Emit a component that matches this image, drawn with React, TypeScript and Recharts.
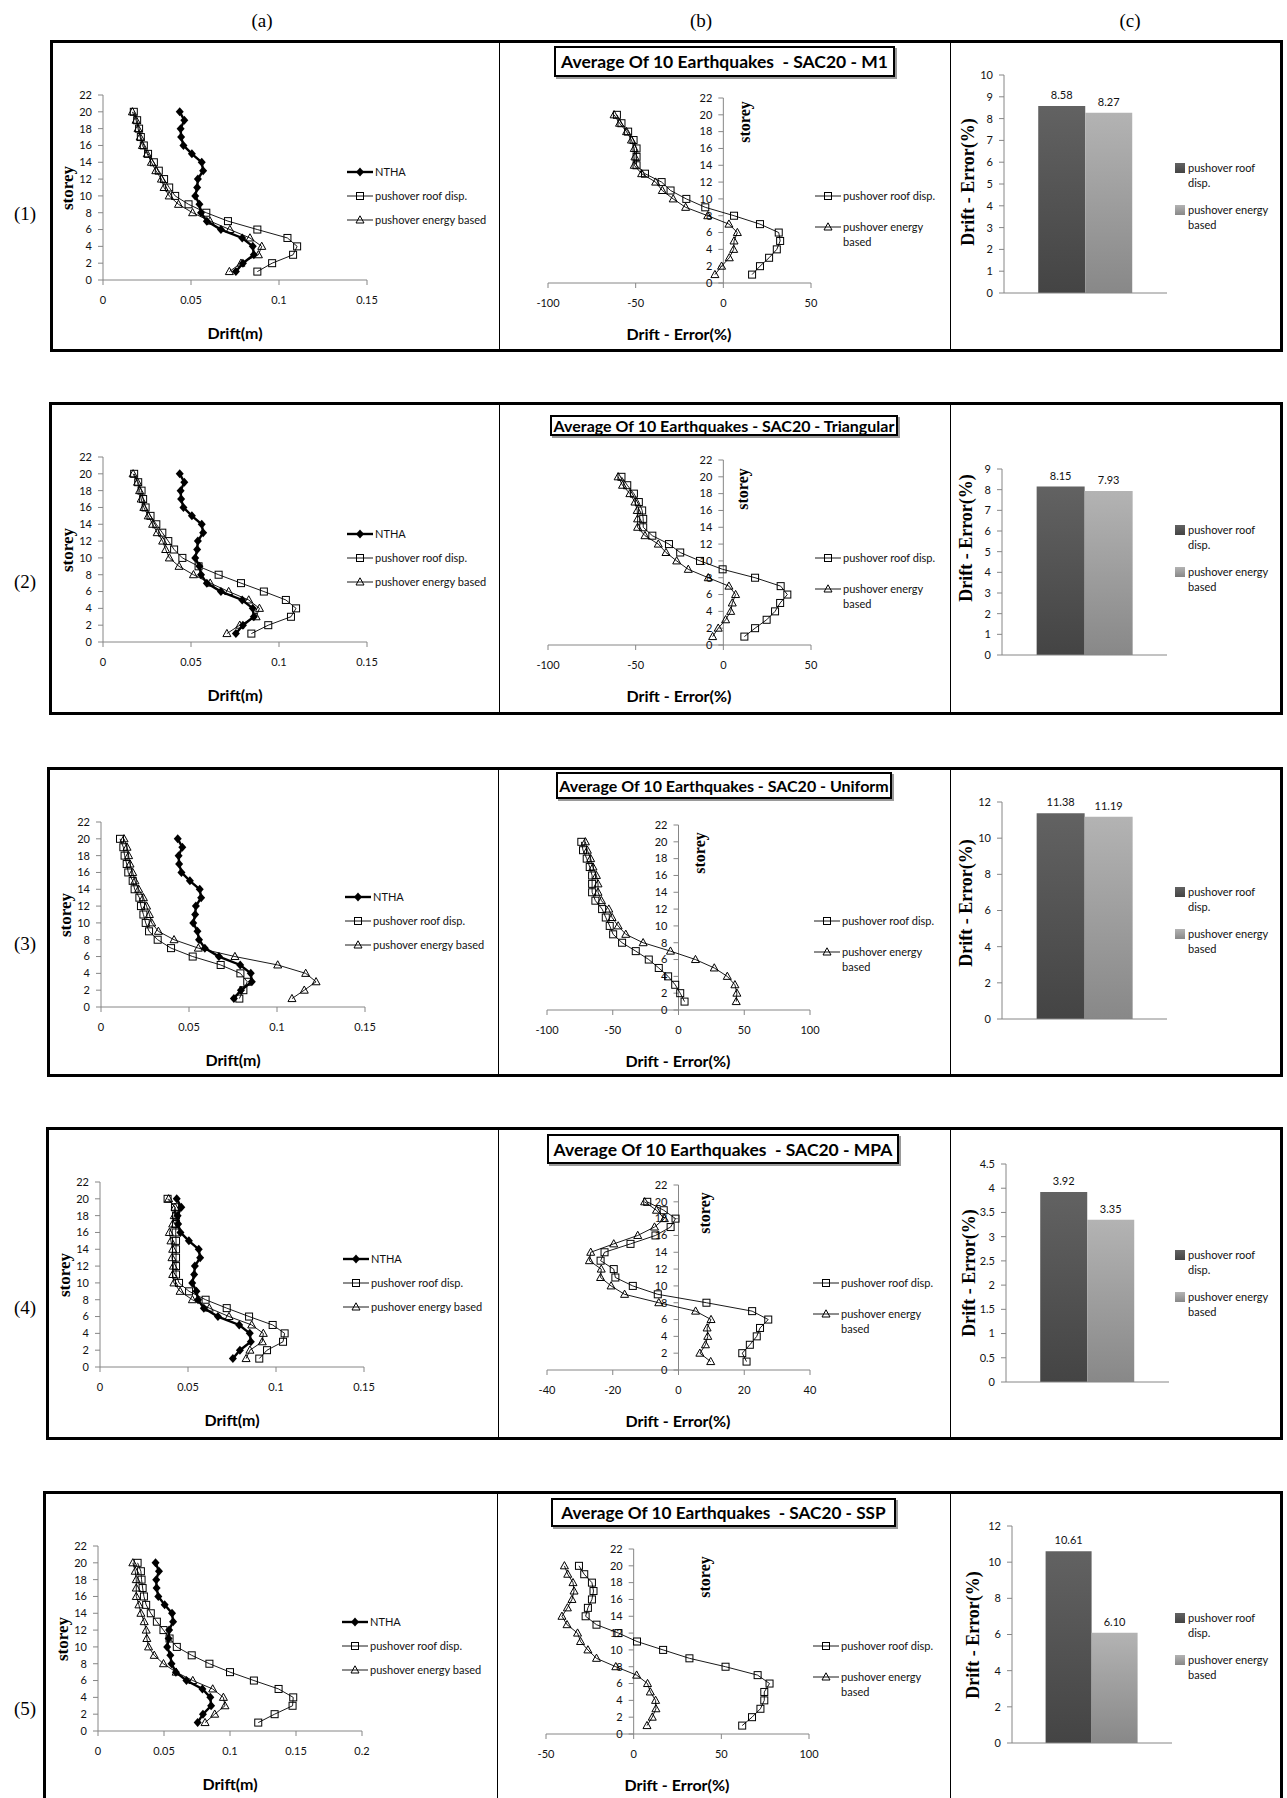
import React from 'react';
import { ScatterChart, Scatter, XAxis, YAxis, ReferenceLine, ReferenceDot, BarChart, Bar, LabelList } from 'recharts';

const SANS = 'Lato, "Open Sans", sans-serif';
const SERIF = '"Liberation Serif", "DejaVu Serif", serif';
const AXIS = '#868686';
const INK = '#111';

// storeys 1..20 (bottom to top)
const storeys = [1, 2, 3, 4, 5, 6, 7, 8, 9, 10, 11, 12, 13, 14, 15, 16, 17, 18, 19, 20];
const storeyTicks = [0, 2, 4, 6, 8, 10, 12, 14, 16, 18, 20, 22];

const seriesNames = ['NTHA', 'pushover roof disp.', 'pushover energy based'];
const columnLabels = ['(a)', '(b)', '(c)'];
const rowLabels = ['(1)', '(2)', '(3)', '(4)', '(5)'];
const titles = [
  'Average Of 10 Earthquakes  - SAC20 - M1',
  'Average Of 10 Earthquakes - SAC20 - Triangular',
  'Average Of 10 Earthquakes - SAC20 - Uniform',
  'Average Of 10 Earthquakes  - SAC20 - MPA',
  'Average Of 10 Earthquakes  - SAC20 - SSP',
];

// NTHA drift (m), same reference in every row
const nthaDrift = [0.0755, 0.0795, 0.0857, 0.0851, 0.0791, 0.067, 0.059, 0.0557, 0.0548, 0.0524, 0.0535, 0.0539, 0.0569, 0.0561, 0.0505, 0.0457, 0.0444, 0.0441, 0.0462, 0.0436];

// M1
const m1RoofDrift = [0.0877, 0.0961, 0.108, 0.1103, 0.1048, 0.0877, 0.071, 0.0587, 0.0486, 0.041, 0.0376, 0.0347, 0.0317, 0.0289, 0.0256, 0.0232, 0.0215, 0.0205, 0.0194, 0.0175];
const m1EnergyDrift = [0.0718, 0.0784, 0.0883, 0.0902, 0.0835, 0.0721, 0.0608, 0.0509, 0.0429, 0.0376, 0.0347, 0.0332, 0.03, 0.0275, 0.0251, 0.0224, 0.0211, 0.0199, 0.0188, 0.0167];
const m1RoofError = [16.4, 20.9, 26.1, 30.5, 32.4, 31.6, 20.9, 6.1, -10.3, -21.1, -30.1, -35.2, -44.7, -49.5, -49.5, -49.5, -51.2, -54.3, -58.1, -60.7];
const m1EnergyError = [-4.8, -1.0, 3.4, 5.9, 6.1, 8.0, 3.2, -8.9, -21.5, -28.6, -34.8, -38.6, -46.6, -50.8, -50.4, -50.8, -52.4, -55.2, -59.2, -62.3];
const m1MeanError = [8.58, 8.27];

// Triangular
const triRoofDrift = [0.0843, 0.0939, 0.1068, 0.1097, 0.1039, 0.0914, 0.0784, 0.0657, 0.0543, 0.0451, 0.0404, 0.0371, 0.0337, 0.0303, 0.027, 0.0242, 0.0228, 0.0219, 0.02, 0.0177];
const triEnergyDrift = [0.0704, 0.0777, 0.087, 0.0889, 0.0828, 0.0714, 0.0609, 0.0514, 0.0432, 0.0377, 0.0356, 0.0339, 0.0308, 0.0282, 0.0257, 0.0232, 0.0217, 0.0208, 0.0196, 0.0171];
const triRoofError = [12.0, 18.1, 24.7, 29.5, 32.4, 36.5, 32.7, 18.1, -0.4, -13.3, -24.6, -31.0, -40.5, -45.7, -45.7, -46.3, -48.2, -51.0, -54.8, -58.1];
const triEnergyError = [-6.1, -2.9, 1.3, 4.2, 5.1, 7.0, 3.2, -8.6, -20.0, -26.6, -32.7, -37.1, -44.7, -48.9, -48.9, -49.1, -50.4, -53.3, -57.5, -60.0];
const triMeanError = [8.15, 7.93];

// Uniform
const uniRoofDrift = [0.0786, 0.0809, 0.0831, 0.0792, 0.068, 0.0521, 0.0398, 0.0322, 0.0273, 0.0254, 0.0241, 0.0227, 0.0218, 0.0191, 0.018, 0.0155, 0.0146, 0.0134, 0.0127, 0.0108];
const uniEnergyDrift = [0.1085, 0.1155, 0.1222, 0.1163, 0.1004, 0.0761, 0.0553, 0.0415, 0.0326, 0.0288, 0.0275, 0.0259, 0.0241, 0.0214, 0.0193, 0.018, 0.0165, 0.0157, 0.0148, 0.0131];
const uniRoofError = [4.6, 1.3, -2.5, -7.9, -15.0, -22.6, -32.5, -42.9, -49.7, -52.3, -55.3, -58.1, -63.2, -65.7, -65.7, -65.7, -67.5, -69.8, -72.6, -73.9];
const uniEnergyError = [43.9, 44.4, 42.9, 37.1, 27.2, 12.9, -6.1, -26.9, -40.1, -45.9, -50.5, -53.0, -58.6, -61.2, -61.2, -62.4, -65.0, -66.8, -69.3, -70.8];
const uniMeanError = [11.38, 11.19];

// MPA
const mpaRoofDrift = [0.0905, 0.0949, 0.104, 0.1049, 0.0981, 0.0847, 0.072, 0.06, 0.0506, 0.0449, 0.0432, 0.0432, 0.0432, 0.0432, 0.0432, 0.043, 0.0432, 0.0432, 0.0426, 0.0384];
const mpaEnergyDrift = [0.083, 0.0852, 0.0922, 0.0928, 0.0862, 0.0733, 0.0621, 0.0525, 0.0455, 0.042, 0.0413, 0.0417, 0.0409, 0.0413, 0.0403, 0.0394, 0.0413, 0.0422, 0.0426, 0.039];
const mpaRoofError = [20.7, 19.4, 21.7, 23.8, 24.8, 27.3, 22.4, 8.5, -6.3, -13.9, -19.2, -19.7, -23.7, -22.5, -14.6, -7.0, -2.4, -0.9, -4.5, -9.5];
const mpaEnergyError = [9.8, 6.5, 8.2, 8.9, 8.7, 9.9, 5.2, -6.0, -16.4, -20.5, -23.7, -23.5, -27.1, -26.7, -19.7, -12.4, -7.3, -4.3, -6.7, -10.3];
const mpaMeanError = [3.92, 3.35];

// SSP
const sspRoofDrift = [0.1214, 0.1338, 0.1474, 0.1479, 0.1368, 0.1181, 0.1, 0.0844, 0.071, 0.0597, 0.0542, 0.0496, 0.0446, 0.04, 0.0365, 0.0348, 0.0338, 0.033, 0.0325, 0.03];
const sspEnergyDrift = [0.0811, 0.0884, 0.0962, 0.095, 0.0869, 0.0718, 0.0592, 0.0496, 0.0426, 0.0383, 0.037, 0.0365, 0.035, 0.0325, 0.031, 0.029, 0.029, 0.029, 0.0282, 0.0264];
const sspRoofError = [61.9, 67.5, 72.3, 74.5, 74.5, 77.5, 70.7, 52.4, 31.8, 16.8, 1.9, -8.7, -21.2, -27.4, -26.1, -23.8, -22.9, -23.8, -28.2, -31.2];
const sspEnergyError = [7.6, 10.6, 12.7, 12.5, 9.5, 7.9, 1.7, -10.2, -21.2, -26.1, -30.3, -32.0, -38.0, -40.9, -37.8, -35.2, -34.0, -34.6, -37.6, -39.5];
const sspMeanError = [10.61, 6.1];

// axis ticks
const driftTicks = [0, 0.05, 0.1, 0.15];
const driftTicksWide = [0, 0.05, 0.1, 0.15, 0.2];
const errTicksNarrow = [-100, -50, 0, 50];
const errTicksWide = [-100, -50, 0, 50, 100];
const errTicksMpa = [-40, -20, 0, 20, 40];
const errTicksSsp = [-50, 0, 50, 100];
const barTicksM1 = [0, 1, 2, 3, 4, 5, 6, 7, 8, 9, 10];
const barTicksTri = [0, 1, 2, 3, 4, 5, 6, 7, 8, 9];
const barTicksUni = [0, 2, 4, 6, 8, 10, 12];
const barTicksMpa = [0, 0.5, 1, 1.5, 2, 2.5, 3, 3.5, 4, 4.5];

const toPoints = (values: number[]) => values.map((v, i) => ({ x: v, y: storeys[i] }));

const rows = [
  { roof: m1RoofDrift, energy: m1EnergyDrift, roofErr: m1RoofError, energyErr: m1EnergyError, bars: m1MeanError, dTicks: driftTicks, eTicks: errTicksNarrow, bTicks: barTicksM1 },
  { roof: triRoofDrift, energy: triEnergyDrift, roofErr: triRoofError, energyErr: triEnergyError, bars: triMeanError, dTicks: driftTicks, eTicks: errTicksNarrow, bTicks: barTicksTri },
  { roof: uniRoofDrift, energy: uniEnergyDrift, roofErr: uniRoofError, energyErr: uniEnergyError, bars: uniMeanError, dTicks: driftTicks, eTicks: errTicksWide, bTicks: barTicksUni },
  { roof: mpaRoofDrift, energy: mpaEnergyDrift, roofErr: mpaRoofError, energyErr: mpaEnergyError, bars: mpaMeanError, dTicks: driftTicks, eTicks: errTicksMpa, bTicks: barTicksMpa },
  { roof: sspRoofDrift, energy: sspEnergyDrift, roofErr: sspRoofError, energyErr: sspEnergyError, bars: sspMeanError, dTicks: driftTicksWide, eTicks: errTicksSsp, bTicks: barTicksUni },
];

// page layout (pixels)
const layouts = [
  { top: 40, boxLeft: 50, boxH: 312, div1: 499, aX: 103, bX: 548, labelY: 174, storeyB: [745, 82], cLab: [968, 142], c: [1004, 35, 163, 218], title: [554, 46, 341, 31], titleSize: 17.5, aLeg: [347, 132], bLeg: [815, 156], cLeg: [1175, 128] },
  { top: 402, boxLeft: 49, boxH: 313, div1: 499, aX: 103, bX: 548, labelY: 180, storeyB: [743, 87], cLab: [966, 136], c: [1002, 67, 165, 186], title: [550, 415, 348, 21], titleSize: 16, aLeg: [347, 132], bLeg: [815, 156], cLeg: [1175, 128] },
  { top: 767, boxLeft: 47, boxH: 310, div1: 498, aX: 101, bX: 547, labelY: 177, storeyB: [700, 86], cLab: [966, 136], c: [1002, 35, 165, 217], title: [556, 772, 336, 27], titleSize: 16, aLeg: [345, 130], bLeg: [814, 154], cLeg: [1175, 125] },
  { top: 1127, boxLeft: 46, boxH: 313, div1: 498, aX: 100, bX: 547, labelY: 181, storeyB: [705, 86], cLab: [969, 146], c: [1006, 37, 163, 218], title: [547, 1134, 352, 30], titleSize: 17.5, aLeg: [343, 132], bLeg: [813, 156], cLeg: [1175, 128] },
  { top: 1491, boxLeft: 43, boxH: 330, div1: 497, aX: 98, bX: 546, labelY: 218, storeyB: [705, 86], cLab: [973, 144], c: [1012, 35, 160, 217], title: [551, 1498, 345, 29], titleSize: 17.2, aLeg: [342, 131], bLeg: [813, 155], cLeg: [1175, 127] },
];

const marker = (kind: string, cx: number, cy: number) => {
  if (kind === 'diamond')
    return <path d={`M${cx},${cy - 4.5}L${cx + 4},${cy}L${cx},${cy + 4.5}L${cx - 4},${cy}Z`} fill="#000" />;
  if (kind === 'square')
    return <rect x={cx - 3.5} y={cy - 3.5} width={7} height={7} fill="none" stroke="#000" strokeWidth={1} />;
  return <path d={`M${cx},${cy - 4.2}L${cx + 4},${cy + 3}L${cx - 4},${cy + 3}Z`} fill="none" stroke="#000" strokeWidth={1} />;
};

const kinds = ['diamond', 'square', 'triangle'];
const widths = [2.4, 0.9, 0.9];

const tickStyle = { fontSize: 11, fill: INK, fontFamily: SANS };

function ProfileChart({ left, top, width, height, domain, ticks, series, zeroAxis }: any) {
  const ML = 50, MT = 12, MB = 40, MR = 12;
  return (
    <div style={{ position: 'absolute', left: left - ML, top: top - MT }}>
      <ScatterChart width={width + ML + MR} height={height + MT + MB} margin={{ top: MT, right: MR, bottom: 0, left: zeroAxis ? ML : 0 }}>
        <XAxis type="number" dataKey="x" domain={domain} ticks={ticks} interval={0} height={MB} stroke={AXIS} tickSize={5} tickMargin={11} tick={tickStyle} />
        <YAxis type="number" dataKey="y" domain={[0, 22]} ticks={storeyTicks} interval={0} width={ML} hide={zeroAxis} stroke={AXIS} tickSize={5} tickMargin={6} tick={tickStyle} />
        {zeroAxis && <ReferenceLine x={0} stroke={AXIS} />}
        {zeroAxis &&
          storeyTicks.map((t) => (
            <ReferenceDot
              key={t}
              x={0}
              y={t}
              r={1}
              ifOverflow="visible"
              shape={(p: any) => (
                <g>
                  <line x1={p.cx - 5} y1={p.cy} x2={p.cx} y2={p.cy} stroke={AXIS} />
                  <text x={p.cx - 11} y={p.cy} dy="0.35em" textAnchor="end" fontSize={11} fill={INK} fontFamily={SANS}>{t}</text>
                </g>
              )}
            />
          ))}
        {series.map((s: any) => (
          <Scatter
            key={s.kind}
            data={s.points}
            line={{ stroke: '#000', strokeWidth: s.lw }}
            lineType="joint"
            shape={(p: any) => marker(s.kind, p.cx, p.cy)}
            isAnimationActive={false}
          />
        ))}
      </ScatterChart>
    </div>
  );
}

function ErrorBars({ left, top, width, height, ticks, values, gid }: any) {
  const ML = 40, MT = 20, MB = 12, MR = 10;
  const data = [{ name: 'avg', roof: values[0], energy: values[1] }];
  const fmt = (v: any) => Number(v).toFixed(2);
  return (
    <div style={{ position: 'absolute', left: left - ML, top: top - MT }}>
      <BarChart width={width + ML + MR} height={height + MT + MB} data={data} margin={{ top: MT, right: MR, bottom: 0, left: 0 }} barGap={0} barCategoryGap="21%">
        <defs>
          <linearGradient id={`${gid}d`} x1="0" y1="0" x2="0" y2="1">
            <stop offset="0%" stopColor="#626262" />
            <stop offset="100%" stopColor="#444444" />
          </linearGradient>
          <linearGradient id={`${gid}l`} x1="0" y1="0" x2="0" y2="1">
            <stop offset="0%" stopColor="#b3b3b3" />
            <stop offset="100%" stopColor="#888888" />
          </linearGradient>
        </defs>
        <XAxis dataKey="name" height={MB} tick={false} tickLine={false} stroke={AXIS} />
        <YAxis type="number" domain={[0, ticks[ticks.length - 1]]} ticks={ticks} interval={0} width={ML} stroke={AXIS} tickSize={5} tickMargin={6} tick={tickStyle} />
        <Bar dataKey="roof" fill={`url(#${gid}d)`} isAnimationActive={false}>
          <LabelList dataKey="roof" position="top" offset={7} formatter={fmt} fontSize={11} fill={INK} fontFamily={SANS} />
        </Bar>
        <Bar dataKey="energy" fill={`url(#${gid}l)`} isAnimationActive={false}>
          <LabelList dataKey="energy" position="top" offset={7} formatter={fmt} fontSize={11} fill={INK} fontFamily={SANS} />
        </Bar>
      </BarChart>
    </div>
  );
}

const Centered = ({ x, y, style, children }: any) => (
  <div style={{ position: 'absolute', left: x, top: y, transform: 'translate(-50%, -50%)', whiteSpace: 'pre', ...style }}>{children}</div>
);
const Rotated = ({ x, y, style, children }: any) => (
  <div style={{ position: 'absolute', left: x, top: y, transform: 'translate(-50%, -50%) rotate(-90deg)', whiteSpace: 'pre', ...style }}>{children}</div>
);

function LineLegendItem({ x, y, kind, lw, lines }: any) {
  return (
    <div style={{ position: 'absolute', left: x, top: y - 7, display: 'flex', alignItems: 'flex-start' }}>
      <svg width={26} height={14}>
        <line x1={0} y1={7} x2={26} y2={7} stroke="#000" strokeWidth={lw} />
        {marker(kind, 13, 7)}
      </svg>
      <div style={{ marginLeft: 2, fontSize: 11, lineHeight: '15px', marginTop: -1, fontFamily: SANS, color: INK, whiteSpace: 'pre' }}>{lines.join('\n')}</div>
    </div>
  );
}

function BarLegendItem({ x, y, gid, lines }: any) {
  return (
    <div style={{ position: 'absolute', left: x, top: y - 7, display: 'flex', alignItems: 'flex-start' }}>
      <svg width={10} height={14}>
        <rect x={0} y={2} width={10} height={10} fill={`url(#${gid})`} />
      </svg>
      <div style={{ marginLeft: 3, fontSize: 11, lineHeight: '15px', marginTop: -1, fontFamily: SANS, color: INK, whiteSpace: 'pre' }}>{lines.join('\n')}</div>
    </div>
  );
}

function Row({ r, L, i }: any) {
  const T = L.top;
  const PW = 264, PH = 185;
  const aTop = T + 55;
  const bTop = T + 58;
  const driftSeries = [nthaDrift, r.roof, r.energy].map((v, k) => ({ points: toPoints(v), kind: kinds[k], lw: widths[k] }));
  const errSeries = [r.roofErr, r.energyErr].map((v, k) => ({ points: toPoints(v), kind: kinds[k + 1], lw: widths[k + 1] }));
  const dTicks = r.dTicks;
  const eTicks = r.eTicks;
  const [cx, cTop, cw, ch] = L.c;
  const gid = `g${i}`;
  return (
    <>
      <div style={{ position: 'absolute', left: L.boxLeft, top: T, width: 1283 - L.boxLeft, height: L.boxH, border: '3px solid #000', boxSizing: 'border-box' }} />
      <div style={{ position: 'absolute', left: L.div1, top: T, width: 1, height: L.boxH, background: '#000' }} />
      <div style={{ position: 'absolute', left: 950, top: T, width: 1, height: L.boxH, background: '#000' }} />
      <Centered x={25} y={T + L.labelY} style={{ fontFamily: SERIF, fontSize: 19 }}>{rowLabels[i]}</Centered>

      {/* (a) drift profiles */}
      <ProfileChart left={L.aX} top={aTop} width={PW} height={PH} domain={[dTicks[0], dTicks[dTicks.length - 1]]} ticks={dTicks} series={driftSeries} />
      <Rotated x={L.aX - 35} y={aTop + PH / 2} style={{ fontFamily: SERIF, fontWeight: 700, fontSize: 17 }}>storey</Rotated>
      <Centered x={L.aX + PW / 2} y={T + 292} style={{ fontFamily: SANS, fontWeight: 700, fontSize: 16 }}>Drift(m)</Centered>
      {seriesNames.map((n, k) => (
        <LineLegendItem key={n} x={L.aLeg[0]} y={T + L.aLeg[1] + k * 24} kind={kinds[k]} lw={widths[k]} lines={[n]} />
      ))}

      {/* (b) drift error profiles */}
      <div style={{ position: 'absolute', left: L.title[0], top: L.title[1], width: L.title[2], height: L.title[3], border: '2px solid #000', boxSizing: 'border-box', boxShadow: '2px 2px 0 #9a9a9a', display: 'flex', alignItems: 'center', justifyContent: 'center', fontFamily: SANS, fontWeight: 700, fontSize: L.titleSize, whiteSpace: 'pre', background: '#fff' }}>{titles[i]}</div>
      <ProfileChart left={L.bX} top={bTop} width={263} height={PH} domain={[eTicks[0], eTicks[eTicks.length - 1]]} ticks={eTicks} series={errSeries} zeroAxis />
      <Rotated x={L.storeyB[0]} y={T + L.storeyB[1]} style={{ fontFamily: SERIF, fontWeight: 700, fontSize: 16 }}>storey</Rotated>
      <Centered x={L.bX + 131} y={T + 293} style={{ fontFamily: SANS, fontWeight: 700, fontSize: 16 }}>Drift - Error(%)</Centered>
      <LineLegendItem x={L.bLeg[0]} y={T + L.bLeg[1]} kind="square" lw={0.9} lines={['pushover roof disp.']} />
      <LineLegendItem x={L.bLeg[0]} y={T + L.bLeg[1] + 31} kind="triangle" lw={0.9} lines={['pushover energy', 'based']} />

      {/* (c) mean errors */}
      <ErrorBars left={cx} top={T + cTop} width={cw} height={ch} ticks={r.bTicks} values={r.bars} gid={gid} />
      <Rotated x={L.cLab[0]} y={T + L.cLab[1]} style={{ fontFamily: SERIF, fontWeight: 700, fontSize: 18 }}>Drift - Error(%)</Rotated>
      <BarLegendItem x={L.cLeg[0]} y={T + L.cLeg[1]} gid={`${gid}d`} lines={['pushover roof', 'disp.']} />
      <BarLegendItem x={L.cLeg[0]} y={T + L.cLeg[1] + 42} gid={`${gid}l`} lines={['pushover energy', 'based']} />
    </>
  );
}

export default function App() {
  const colX = [262, 701, 1130];
  return (
    <div style={{ position: 'absolute', left: 0, top: 0, width: 1287, height: 1798, background: '#fff', overflow: 'hidden' }}>
      {columnLabels.map((c, k) => (
        <Centered key={c} x={colX[k]} y={21} style={{ fontFamily: SERIF, fontSize: 19 }}>{c}</Centered>
      ))}
      {rows.map((r, i) => (
        <Row key={i} r={r} L={layouts[i]} i={i} />
      ))}
    </div>
  );
}
